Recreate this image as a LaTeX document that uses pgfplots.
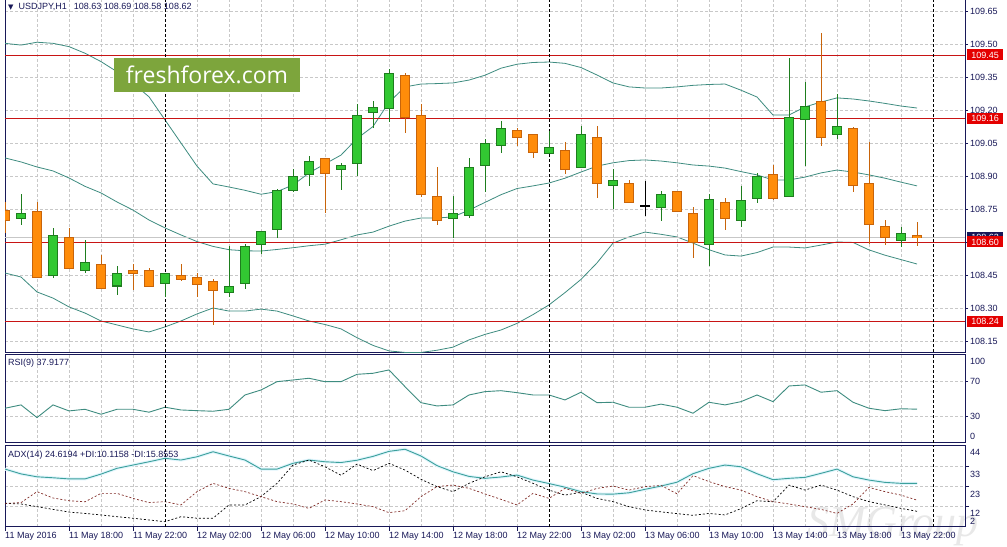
\documentclass[border=0pt]{standalone}
\usepackage{fontspec}
\setmainfont{Liberation Sans}
\newfontfamily\djv{DejaVu Sans}
\newfontfamily\osans{Open Sans}
\newfontfamily\lserif{Liberation Serif}
\usepackage{pgfplots}
\usepackage{pgfplotstable}
\pgfplotsset{compat=1.18}

\definecolor{navy}{RGB}{24,24,88}
\definecolor{grd}{RGB}{200,200,200}
\definecolor{bandc}{RGB}{62,140,128}
\definecolor{adxc}{RGB}{60,160,155}
\definecolor{bullf}{RGB}{50,200,50}
\definecolor{bullb}{RGB}{30,125,30}
\definecolor{bearf}{RGB}{255,140,10}
\definecolor{bearb}{RGB}{200,100,10}
\definecolor{lvl}{RGB}{200,20,20}
\definecolor{lvlbox}{RGB}{228,0,0}
\definecolor{ffgreen}{RGB}{125,165,60}
\definecolor{mdic}{RGB}{130,45,40}

\newcommand{\tf}{\fontsize{9bp}{10bp}\selectfont}

\pgfplotstableread{
h o hi lo c
-9 108.706 108.821 108.677 108.730
-7 108.447 108.662 108.438 108.630
-5 108.471 108.609 108.458 108.508
-3 108.400 108.491 108.359 108.458
0 108.410 108.458 108.351 108.458
4 108.371 108.581 108.351 108.398
5 108.410 108.593 108.387 108.581
6 108.589 108.650 108.549 108.650
7 108.658 108.841 108.621 108.832
8 108.836 108.930 108.826 108.897
9 108.908 108.991 108.856 108.965
11 108.930 108.958 108.836 108.949
12 108.958 109.227 108.900 109.176
13 109.190 109.241 109.117 109.215
14 109.208 109.386 109.147 109.367
18 108.706 108.811 108.620 108.730
19 108.721 108.983 108.708 108.941
20 108.950 109.067 108.826 109.049
21 109.040 109.150 109.003 109.117
24 109.001 109.105 109.001 109.032
26 108.940 109.127 108.940 109.090
28 108.858 108.930 108.749 108.879
31 108.756 108.832 108.697 108.817
34 108.589 108.821 108.491 108.791
36 108.700 108.855 108.670 108.791
37 108.799 108.915 108.780 108.900
39 108.809 109.435 108.809 109.167
40 109.159 109.329 108.947 109.218
42 109.090 109.276 109.071 109.124
46 108.609 108.670 108.579 108.640
}\bulltab

\pgfplotstableread{
h o hi lo c
-10 108.741 108.783 108.641 108.697
-8 108.741 108.783 108.435 108.439
-6 108.623 108.662 108.478 108.480
-4 108.499 108.541 108.390 108.390
-2 108.471 108.499 108.382 108.458
-1 108.473 108.480 108.394 108.397
1 108.449 108.499 108.420 108.431
2 108.440 108.458 108.348 108.410
3 108.420 108.431 108.223 108.380
10 108.980 108.980 108.730 108.915
15 109.358 109.370 109.097 109.167
16 109.176 109.227 108.806 108.817
17 108.808 108.942 108.677 108.699
22 109.109 109.120 109.038 109.076
23 109.090 109.090 108.980 109.008
25 109.017 109.056 108.908 108.930
27 109.077 109.127 108.799 108.867
29 108.868 108.882 108.780 108.780
32 108.832 108.832 108.738 108.738
33 108.730 108.760 108.530 108.599
35 108.780 108.799 108.655 108.708
38 108.909 108.950 108.794 108.799
41 109.241 109.549 109.038 109.076
43 109.117 109.124 108.829 108.858
44 108.867 109.056 108.594 108.680
45 108.670 108.700 108.589 108.621
47 108.630 108.690 108.580 108.620
}\beartab

\pgfplotstableread{
h o hi lo c
30 108.765 108.877 108.718 108.765
}\dojitab

\pgfplotstableread{
h up mid lo
-10 109.503 108.982 108.459
-9 109.495 108.964 108.441
-8 109.508 108.941 108.373
-7 109.503 108.923 108.345
-6 109.488 108.891 108.305
-5 109.458 108.853 108.277
-4 109.420 108.823 108.241
-3 109.374 108.782 108.223
-2 109.321 108.745 108.205
-1 109.260 108.700 108.191
0 109.155 108.664 108.214
1 109.050 108.632 108.241
2 108.945 108.602 108.273
3 108.864 108.580 108.300
4 108.850 108.565 108.286
5 108.835 108.560 108.286
6 108.817 108.559 108.295
7 108.829 108.566 108.286
8 108.859 108.574 108.264
9 108.914 108.583 108.241
10 108.955 108.590 108.225
11 108.995 108.610 108.205
12 109.070 108.632 108.165
13 109.125 108.645 108.130
14 109.235 108.672 108.105
15 109.305 108.695 108.098
16 109.318 108.709 108.098
17 109.320 108.709 108.108
18 109.323 108.714 108.122
19 109.336 108.745 108.155
20 109.358 108.780 108.180
21 109.390 108.815 108.200
22 109.408 108.843 108.230
23 109.416 108.855 108.270
24 109.418 108.868 108.314
25 109.412 108.890 108.370
26 109.393 108.918 108.430
27 109.359 108.945 108.505
28 109.323 108.960 108.595
29 109.305 108.970 108.623
30 109.300 108.973 108.645
31 109.300 108.968 108.635
32 109.305 108.960 108.623
33 109.312 108.950 108.595
34 109.316 108.945 108.565
35 109.318 108.936 108.541
36 109.290 108.920 108.536
37 109.259 108.905 108.552
38 109.177 108.882 108.577
39 109.177 108.882 108.577
40 109.214 108.895 108.573
41 109.236 108.914 108.586
42 109.255 108.927 108.600
43 109.250 108.918 108.598
44 109.241 108.905 108.564
45 109.230 108.890 108.540
46 109.218 108.872 108.520
47 109.209 108.855 108.500
}\bandtab

\pgfplotstableread{
h rsi
-10 39.0
-9 42.9
-8 28.1
-7 42.9
-6 35.9
-5 37.8
-4 32.0
-3 37.8
-2 37.8
-1 34.4
0 40.2
1 37.0
2 36.2
3 35.5
4 37.8
5 54.5
6 60.3
7 70.0
8 72.0
9 74.0
10 70.0
11 70.0
12 78.6
13 79.8
14 83.7
15 64.2
16 45.5
17 41.7
18 42.9
19 54.5
20 58.4
21 59.5
22 57.2
23 54.5
24 54.5
25 48.7
26 57.7
27 45.5
28 46.0
29 40.2
30 40.2
31 43.8
32 40.2
33 33.2
34 46.0
35 42.9
36 46.7
37 54.5
38 46.7
39 65.0
40 66.2
41 57.7
42 59.5
43 46.0
44 39.0
45 36.2
46 38.4
47 37.9
}\rsitab

\pgfplotstableread{
h adx pdi mdi
-10 32.0 14.2 14.2
-9 29.5 13.9 14.6
-8 28.0 12.5 20.3
-7 27.5 11.1 17.0
-6 26.9 9.7 15.6
-5 26.9 9.0 15.0
-4 29.4 8.2 19.4
-3 32.4 7.3 19.4
-2 34.1 6.5 16.8
-1 35.8 5.6 14.6
0 37.6 4.7 15.1
1 36.7 7.3 13.4
2 38.4 6.5 20.3
3 41.0 6.5 24.6
4 38.8 13.4 22.0
5 36.7 13.4 20.3
6 32.0 17.7 17.7
7 32.0 24.6 15.1
8 35.0 34.1 13.9
9 36.7 36.7 11.6
10 35.8 33.2 16.0
11 35.4 28.8 15.1
12 36.6 34.6 13.9
13 38.6 31.2 12.5
14 41.2 35.0 9.4
15 42.3 31.5 10.4
16 38.8 26.7 17.7
17 33.8 22.9 22.9
18 30.6 20.3 23.7
19 28.2 24.6 22.0
20 27.2 28.0 19.1
21 27.9 30.6 16.3
22 28.9 28.0 13.4
23 26.3 24.6 19.4
24 24.5 21.1 16.8
25 22.6 18.5 22.0
26 20.3 20.0 19.4
27 19.1 16.8 22.0
28 19.0 15.1 23.2
29 19.7 12.5 21.1
30 21.5 10.8 22.9
31 23.2 9.8 23.5
32 25.2 8.9 19.2
33 29.6 8.0 28.6
34 32.4 9.0 25.5
35 34.1 8.2 22.9
36 33.2 11.5 21.1
37 29.6 15.6 17.7
38 26.5 15.0 15.1
39 27.2 23.7 13.9
40 27.7 21.1 12.5
41 29.8 23.7 11.1
42 32.0 21.1 9.0
43 28.0 17.7 13.9
44 26.3 15.1 22.5
45 25.1 13.4 20.3
46 24.6 11.6 18.5
47 24.6 10.1 15.9
}\adxtab

\pgfplotsset{
  panel/.style={
    scale only axis, width=960bp, xmin=-10, xmax=50,
    clip mode=individual,
    axis line style={draw=navy, line width=0.9bp},
    xtick={-10,-6,...,46}, minor xtick={-8,-4,...,48},
    xmajorgrids, xminorgrids, ymajorgrids,
    major grid style={grd, dash pattern=on 3bp off 2bp, line width=0.6bp},
    minor grid style={grd, dash pattern=on 3bp off 2bp, line width=0.6bp},
    ytick pos=right, yticklabel pos=right,
    tick align=outside, major tick length=3bp, minor tick length=0pt,
    tick style={navy, line width=0.6bp},
    ticklabel style={font=\tf, text=navy},
    yticklabel style={anchor=west, inner sep=0pt, xshift=2bp},
  },
  nox/.style={xticklabels={}, xtick style={draw=none}},
  sep/.style={black, dash pattern=on 3bp off 2bp, line width=0.8bp},
  ebar/.style n args={2}{only marks, mark=o, mark size=0pt,
    mark options={draw=none, fill=none},
    error bars/.cd, y dir=both, y explicit, error mark=none,
    error bar style={#1, line width=#2, solid}},
}

\newcommand{\candles}[3]{%
  \addplot[ebar={#2}{1bp}] table[x=h, y expr={(\thisrow{hi}+\thisrow{lo})/2}, y error expr={(\thisrow{hi}-\thisrow{lo})/2}] {#1};
  \addplot[ebar={#2}{10bp}] table[x=h, y expr={(\thisrow{o}+\thisrow{c})/2}, y error expr={abs(\thisrow{c}-\thisrow{o})/2+0.0023}] {#1};
  \addplot[ebar={#3}{8bp}] table[x=h, y expr={(\thisrow{o}+\thisrow{c})/2}, y error expr={max(abs(\thisrow{c}-\thisrow{o})/2-0.0023,0)}] {#1};
}
\newcommand{\rlab}[2]{\node[anchor=west, inner sep=0pt, font=\tf, text=navy] at (axis cs:50,#1) [xshift=5bp] {#2};}

\begin{document}
\begin{tikzpicture}[x=1bp,y=1bp]
\path[use as bounding box] (0bp,0bp) rectangle (1007bp,-547bp);
\fill[white] (0bp,0bp) rectangle (1007bp,-547bp);
\node[text=black!9, font=\lserif\itshape\fontsize{44bp}{44bp}\selectfont, inner sep=0pt] at (893bp,-527bp) {SMGroup};

% ---------- main price panel ----------
\begin{axis}[panel, nox, at={(5bp,1bp)}, anchor=north west, height=353bp,
  ymin=108.10, ymax=109.7045,
  ytick={108.15,108.30,108.45,108.60,108.75,108.90,109.05,109.20,109.35,109.50,109.65},
  yticklabels={108.15,108.30,108.45,108.60,108.75,108.90,109.05,109.20,109.35,109.50,109.65}]
\addplot[bandc, line width=0.8bp] table[x=h, y=up] {\bandtab};
\addplot[bandc, line width=0.8bp] table[x=h, y=mid] {\bandtab};
\addplot[bandc, line width=0.8bp] table[x=h, y=lo] {\bandtab};
\addplot[black!22, line width=0.7bp] coordinates {(-10,108.62) (50,108.62)};
\addplot[lvl, line width=0.9bp] coordinates {(-10,109.45) (50,109.45)};
\addplot[lvl, line width=0.9bp] coordinates {(-10,109.16) (50,109.16)};
\addplot[lvl, line width=0.9bp] coordinates {(-10,108.60) (50,108.60)};
\addplot[lvl, line width=0.9bp] coordinates {(-10,108.24) (50,108.24)};
\addplot[sep] coordinates {(0,108.10) (0,109.71)};
\addplot[sep] coordinates {(24,108.10) (24,109.71)};
\addplot[sep] coordinates {(48,108.10) (48,109.71)};
\candles{\bulltab}{bullb}{bullf}
\candles{\beartab}{bearb}{bearf}
\addplot[ebar={black}{1bp}] table[x=h, y expr={(\thisrow{hi}+\thisrow{lo})/2}, y error expr={(\thisrow{hi}-\thisrow{lo})/2}] {\dojitab};
\addplot[ebar={black}{10bp}] table[x=h, y expr={(\thisrow{o}+\thisrow{c})/2}, y error expr={0.0023}] {\dojitab};
\node[fill=navy, text=white, font=\tf, inner sep=0pt, minimum width=36bp, minimum height=11bp, anchor=west] at (axis cs:50,108.62) [xshift=2bp] {108.62};
\node[fill=lvlbox, text=white, font=\tf, inner sep=0pt, minimum width=36bp, minimum height=11bp, anchor=west] at (axis cs:50,109.45) [xshift=2bp] {109.45};
\node[fill=lvlbox, text=white, font=\tf, inner sep=0pt, minimum width=36bp, minimum height=11bp, anchor=west] at (axis cs:50,109.16) [xshift=2bp] {109.16};
\node[fill=lvlbox, text=white, font=\tf, inner sep=0pt, minimum width=36bp, minimum height=11bp, anchor=west] at (axis cs:50,108.60) [xshift=2bp] {108.60};
\node[fill=lvlbox, text=white, font=\tf, inner sep=0pt, minimum width=36bp, minimum height=11bp, anchor=west] at (axis cs:50,108.24) [xshift=2bp] {108.24};
\end{axis}

% ---------- RSI panel ----------
\begin{axis}[panel, nox, at={(5bp,-354bp)}, anchor=north west, height=88.7bp,
  ymin=-1.2, ymax=102.3, ytick={30,70}, yticklabels={30,70}]
\addplot[bandc, line width=0.9bp] table[x=h, y=rsi] {\rsitab};
\addplot[sep] coordinates {(0,-1.2) (0,102.3)};
\addplot[sep] coordinates {(24,-1.2) (24,102.3)};
\addplot[sep] coordinates {(48,-1.2) (48,102.3)};
\rlab{93.3}{100}
\rlab{5.9}{0}
\end{axis}

% ---------- ADX panel ----------
\begin{axis}[panel, at={(5bp,-445bp)}, anchor=north west, height=81.7bp,
  ymin=2.1, ymax=44.5, ytick={12.9,23.2,33.5}, yticklabels={},
  xtick pos=bottom, major tick length=4bp,
  xticklabels={11 May 2016, 11 May 18:00, 11 May 22:00, 12 May 02:00, 12 May 06:00, 12 May 10:00, 12 May 14:00, 12 May 18:00, 12 May 22:00, 13 May 02:00, 13 May 06:00, 13 May 10:00, 13 May 14:00, 13 May 18:00, 13 May 22:00},
  xticklabel style={anchor=north west, inner sep=0pt, yshift=-1bp}]
\addplot[cyan!12, line width=3bp] table[x=h, y=adx] {\adxtab};
\addplot[adxc, line width=0.9bp] table[x=h, y=adx] {\adxtab};
\addplot[black, dash pattern=on 2bp off 2bp, line width=0.7bp] table[x=h, y=pdi] {\adxtab};
\addplot[mdic, dash pattern=on 2bp off 2bp, line width=0.7bp] table[x=h, y=mdi] {\adxtab};
\addplot[sep] coordinates {(0,2.1) (0,44.5)};
\addplot[sep] coordinates {(24,2.1) (24,44.5)};
\addplot[sep] coordinates {(48,2.1) (48,44.5)};
\rlab{40.9}{44}
\rlab{29.2}{33}
\rlab{18.8}{23}
\rlab{8.95}{12}
\rlab{5.06}{2}
\end{axis}

% ---------- texts ----------
\node[anchor=west, inner sep=0pt, font=\tf, text=navy] at (8bp,-7bp) {{\djv\fontsize{7bp}{8bp}\selectfont ▼}\hspace{5bp}USDJPY,H1\hspace{7bp}108.63 108.69 108.58 108.62};
\node[anchor=west, inner sep=0pt, font=\tf, text=navy] at (8bp,-363bp) {RSI(9) 37.9177};
\node[anchor=west, inner sep=0pt, font=\tf, text=navy] at (8bp,-455bp) {ADX(14) 24.6194 +DI:10.1158 -DI:15.8553};
\node[fill=ffgreen, text=white, minimum width=186bp, minimum height=34bp, inner sep=0pt, font=\osans\fontsize{23bp}{23bp}\selectfont] at (207bp,-75bp) {freshforex.com};
\end{tikzpicture}
\end{document}
